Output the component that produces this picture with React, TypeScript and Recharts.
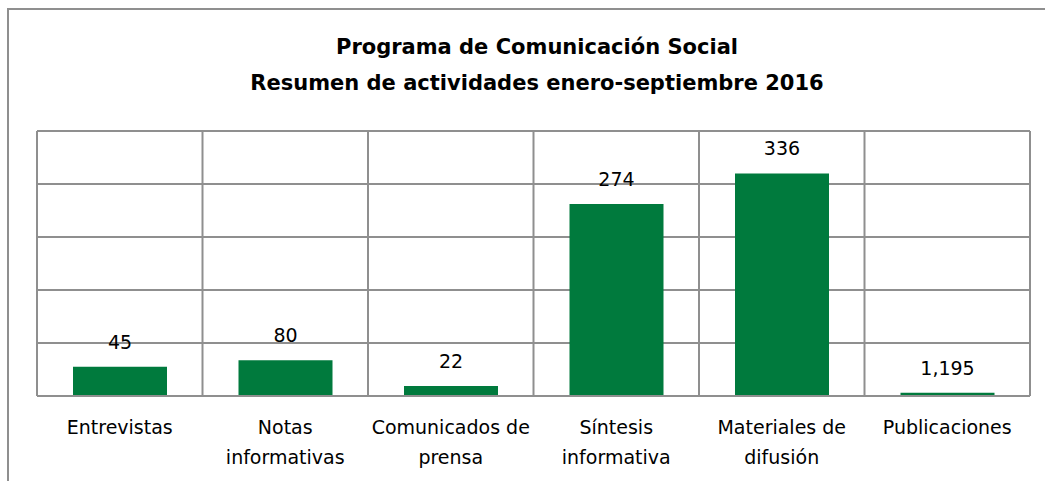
import { BarChart, Bar, XAxis, YAxis, CartesianGrid, LabelList } from 'recharts';

const categories = [
  'Entrevistas',
  'Notas informativas',
  'Comunicados de prensa',
  'Síntesis informativa',
  'Materiales de difusión',
  'Publicaciones',
];
const categoryLines = [
  ['Entrevistas'],
  ['Notas', 'informativas'],
  ['Comunicados de', 'prensa'],
  ['Síntesis', 'informativa'],
  ['Materiales de', 'difusión'],
  ['Publicaciones'],
];
// bar heights as drawn (hidden axis 0-400)
const barHeights = [44, 54, 15, 290, 336, 5];
const valueLabels = ['45', '80', '22', '274', '336', '1,195'];
const yTicks = [0, 80, 160, 240, 320, 400];

const data = categories.map((name, i) => ({
  name,
  value: barHeights[i],
  label: valueLabels[i],
}));

const FONT = '"DejaVu Sans", sans-serif';
const GRID = '#8f8f8f';

const CategoryTick = (props: any) => {
  const { x, y, payload } = props;
  const lines = categoryLines[payload.index] ?? [payload.value];
  return (
    <text x={x} y={y + 30} textAnchor="middle" fontSize={19} fontFamily={FONT} fill="#000">
      {lines.map((l: string, i: number) => (
        <tspan key={i} x={x} dy={i === 0 ? 0 : 30}>
          {l}
        </tspan>
      ))}
    </text>
  );
};

const ValueLabel = (props: any) => {
  const { x, y, width, value } = props;
  return (
    <text x={x + width / 2} y={y - 18} textAnchor="middle" fontSize={19} fontFamily={FONT} fill="#000">
      {value}
    </text>
  );
};

const App = () => {
  return (
    <div style={{ position: 'absolute', left: 0, top: 0, width: 1045, height: 481, background: '#fff', overflow: 'hidden' }}>
      <div
        style={{
          position: 'absolute',
          left: 7,
          top: 8,
          width: 1100,
          height: 500,
          borderLeft: `2px solid ${GRID}`,
          borderTop: `2px solid ${GRID}`,
        }}
      />
      <div
        style={{
          position: 'absolute',
          left: 0,
          top: 29,
          width: 1074,
          textAlign: 'center',
          fontFamily: FONT,
          fontWeight: 'bold',
          fontSize: 21,
          lineHeight: '36px',
          color: '#000',
        }}
      >
        <div>Programa de Comunicación Social</div>
        <div>Resumen de actividades enero-septiembre 2016</div>
      </div>
      <div style={{ position: 'absolute', left: 0, top: 0 }}>
        <BarChart width={1045} height={481} data={data} margin={{ top: 131, right: 15, left: 37, bottom: 0 }}>
          <CartesianGrid
            stroke={GRID}
            strokeWidth={2}
            verticalCoordinatesGenerator={({ offset }: any) =>
              categories.map((_, i) => offset.left + (i * offset.width) / categories.length).concat(offset.left + offset.width)
            }
          />
          <XAxis
            dataKey="name"
            axisLine={{ stroke: GRID, strokeWidth: 2 }}
            tickLine={false}
            interval={0}
            tick={<CategoryTick />}
            height={85}
          />
          <YAxis hide domain={[0, 400]} ticks={yTicks} />
          <Bar dataKey="value" fill="#007A3D" barSize={94} isAnimationActive={false}>
            <LabelList dataKey="label" content={<ValueLabel />} />
          </Bar>
        </BarChart>
      </div>
    </div>
  );
};

export default App;
